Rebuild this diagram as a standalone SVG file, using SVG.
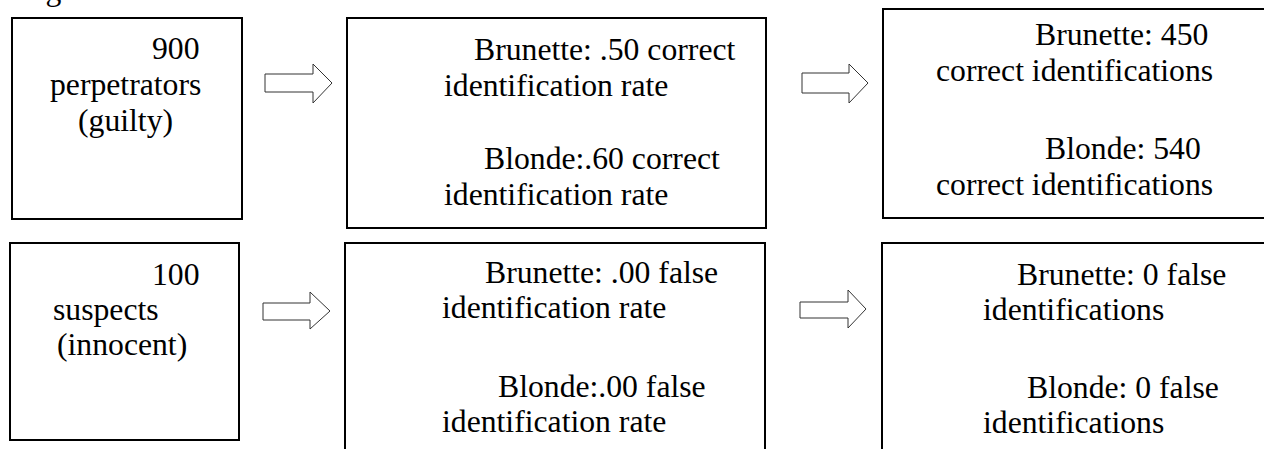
<svg xmlns="http://www.w3.org/2000/svg" width="1264" height="449" viewBox="0 0 1264 449">
<style>
.box{fill:#fff;stroke:#000;stroke-width:2}
.arr{fill:#fff;stroke:#333;stroke-width:1}
text{font-family:"Times New Roman","Liberation Serif",Tinos,"Noto Serif","DejaVu Serif",FreeSerif,serif;font-size:31.7px;fill:#000}
</style>
<rect width="1264" height="449" fill="#fff"/>
<text x="19" y="0">Figure</text>
<g id="connectors">
<path class="arr" d="M265,74 H313 V64 L332,83 L313,103 V92 H265 Z"/>
<path class="arr" d="M802,73 H849 V64 L868,83 L849,103 V93 H802 Z"/>
<path class="arr" d="M263,303 H310 V292 L330,311 L310,329 V320 H263 Z"/>
<path class="arr" d="M800,302 H848 V290 L866,309 L848,328 V318 H800 Z"/>
</g>
<g id="guilty">
<rect class="box" x="12" y="18" width="230" height="201"/>
<text x="152" y="59">900</text>
<text x="50" y="95">perpetrators</text>
<text x="78" y="131">(guilty)</text>
</g>
<g id="correct-rate">
<rect class="box" x="347" y="18" width="419" height="210"/>
<text x="474" y="60">Brunette: .50 correct</text>
<text x="444" y="96">identification rate</text>
<text x="484" y="169">Blonde:.60 correct</text>
<text x="444" y="205">identification rate</text>
</g>
<g id="correct-count">
<rect class="box" x="883" y="9" width="400" height="209"/>
<text x="1035" y="45">Brunette: 450</text>
<text x="936" y="81">correct identifications</text>
<text x="1045" y="159">Blonde: 540</text>
<text x="936" y="195">correct identifications</text>
</g>
<g id="innocent">
<rect class="box" x="10" y="243" width="229" height="197"/>
<text x="152" y="285">100</text>
<text x="53" y="320">suspects</text>
<text x="57" y="355">(innocent)</text>
</g>
<g id="false-rate">
<rect class="box" x="345" y="243" width="420" height="220"/>
<text x="485" y="283">Brunette: .00 false</text>
<text x="442" y="318">identification rate</text>
<text x="498" y="397">Blonde:.00 false</text>
<text x="442" y="432">identification rate</text>
</g>
<g id="false-count">
<rect class="box" x="882" y="243" width="400" height="220"/>
<text x="1017" y="285">Brunette: 0 false</text>
<text x="983" y="320">identifications</text>
<text x="1027" y="398">Blonde: 0 false</text>
<text x="983" y="433">identifications</text>
</g>
</svg>
